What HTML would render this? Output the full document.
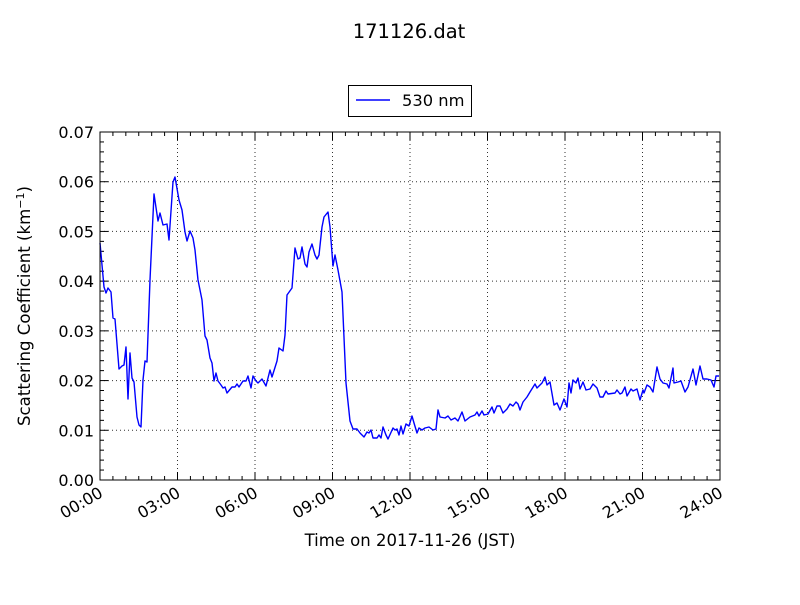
<!DOCTYPE html>
<html><head><meta charset="utf-8"><style>
body{margin:0;background:#fff;}
svg text{font-family:"DejaVu Sans","Liberation Sans",sans-serif;fill:#000;}
</style></head><body>
<svg id="s" width="800" height="600" xmlns="http://www.w3.org/2000/svg">
<rect width="800" height="600" fill="#fff"/>
<text x="409" y="38" font-size="19.5" text-anchor="middle">171126.dat</text>
<g id="grid" stroke="#000" stroke-width="1" stroke-dasharray="1,3" opacity="0.8"></g>
<g id="ticks" stroke="#000" stroke-width="1"></g>
<polyline fill="none" stroke="#0000ff" stroke-width="1.4" stroke-linejoin="round" points="100,243 104,287 106,293 108,288 111,292 113,318 115,319 119,369 122,366 124,365 126,347 128,399 130,353 132,378 134,382 137,417 139,425 141,427 143,380 145,361 147,362 150,280 154,194 158,221 160,213 163,225 167,224 169,240 173,182 175,177 179,200 182,210 185,232 187,241 190,231 193,238 195,250 198,280 202,300 205,336 207,340 210,358 212,363 214,381 216,373 218,381 221,385 223,388 225,387 227,393 232,387 235,387 237,384 239,387 243,381 246,381 248,376 251,388 253,376 256,381 258,383 262,379 266,386 270,370 272,377 277,361 279,348 283,351 285,335 287,295 292,288 295,248 298,259 300,258 302,247 305,264 307,267 309,252 312,244 315,255 317,259 319,255 322,227 324,217 328,212 330,227 333,266 335,255 338,270 342,292 346,383 350,421 353,429 357,429 360,433 364,437 367,432 369,433 371,430 373,438 377,438 379,435 381,438 383,427 386,435 388,439 393,428 395,430 397,429 399,435 401,426 403,434 406,424 409,426 412,416 414,423 417,433 419,428 422,430 425,428 429,427 433,430 436,429 438,410 440,417 445,418 448,416 451,420 455,418 458,421 462,412 465,421 470,417 475,415 477,412 479,416 482,411 484,415 488,414 492,407 494,413 497,406 500,406 503,413 507,409 510,404 513,406 516,402 518,404 520,410 523,402 527,397 530,392 535,384 537,388 542,383 545,377 547,385 550,382 554,405 557,403 560,410 564,399 567,407 569,383 571,393 573,380 576,383 578,378 580,389 583,382 586,390 590,389 593,384 597,388 600,397 603,397 606,391 608,394 615,393 617,390 620,394 622,393 625,387 627,396 631,389 633,391 637,389 640,400 643,390 644,393 647,385 650,387 653,392 657,367 660,379 663,383 667,384 669,388 673,368 674,383 678,382 681,381 685,392 688,387 693,369 696,385 700,366 703,379 707,379 711,380 714,387 716,376 719,376"/>
<rect x="100" y="132" width="620" height="348" fill="none" stroke="#000" stroke-width="1"/>
<g id="labels" font-size="16"></g>
<rect x="348.5" y="85.5" width="123" height="31" fill="#fff" stroke="#000"/>
<line x1="356" y1="100" x2="390" y2="100" stroke="#0000ff" stroke-width="1.4"/>
<text x="402" y="106" font-size="16.3">530 nm</text>
<text x="0" y="0" font-size="16.6" text-anchor="middle" transform="translate(30,306) rotate(-90)">Scattering Coefficient (km<tspan font-size="11" dy="-6">−1</tspan><tspan dy="6">)</tspan></text>
<text x="410" y="546" font-size="16.5" text-anchor="middle">Time on 2017-11-26 (JST)</text>
</svg>
<script>
var ns="http://www.w3.org/2000/svg";
function el(p,t,a,txt){var e=document.createElementNS(ns,t);for(var k in a)e.setAttribute(k,a[k]);if(txt!=null)e.textContent=txt;document.getElementById(p).appendChild(e);}
var L=100,R=720,T=132,B=480;
for(var i=0;i<=7;i++){var y=B-i*(B-T)/7;
 if(i>0&&i<7)el("grid","line",{x1:L,x2:R,y1:y,y2:y});
 el("labels","text",{x:94,y:y+6,"text-anchor":"end"},(i/100).toFixed(2));}
for(var i=0;i<=35;i++){var y=B-i*(B-T)/35,len=(i%5==0)?8:4;
 el("ticks","line",{x1:L,x2:L+len,y1:y,y2:y});el("ticks","line",{x1:R,x2:R-len,y1:y,y2:y});}
for(var h=0;h<=24;h+=0.5){var x=L+h*(R-L)/24,len=(h%3==0)?8:4;
 el("ticks","line",{x1:x,x2:x,y1:B,y2:B-len});el("ticks","line",{x1:x,x2:x,y1:T,y2:T+len});}
for(var h=0;h<=24;h+=3){var x=L+h*(R-L)/24;
 if(h>0&&h<24)el("grid","line",{x1:x,x2:x,y1:T,y2:B});
 var s=(h<10?"0":"")+h+":00";
 el("labels","text",{x:0,y:0,"text-anchor":"end",transform:"translate("+(x+4)+","+(B+16)+") rotate(-30)"},s);}
</script>
</body></html>
